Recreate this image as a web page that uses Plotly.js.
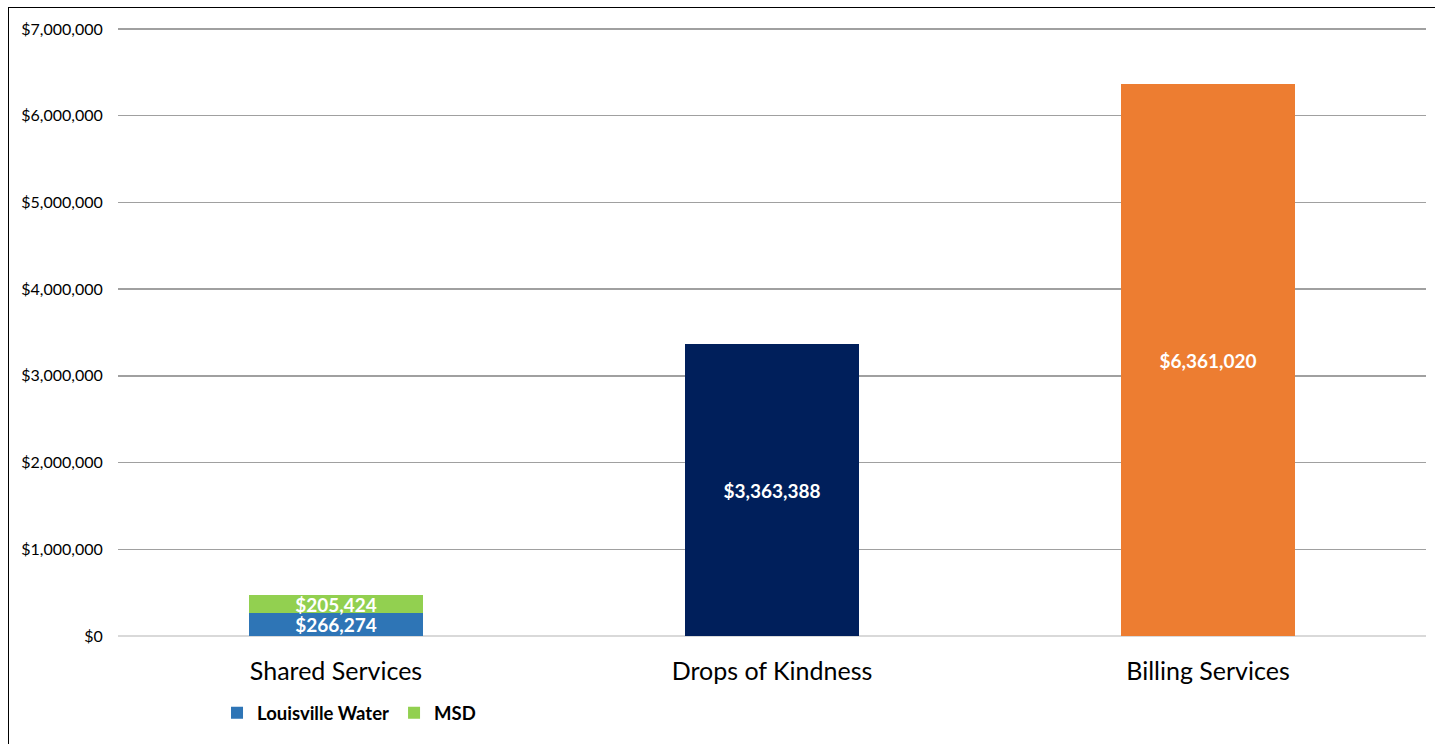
<!DOCTYPE html>
<html>
<head>
<meta charset="utf-8">
<script src="https://cdn.plot.ly/plotly-3.0.1.min.js"></script>
<style>
html,body{margin:0;padding:0;background:#fff;overflow:hidden;}
#chart{width:1435px;height:744px;position:absolute;left:0;top:0;}
#frame{position:absolute;left:8px;top:7px;width:1500px;height:800px;border:1.5px solid #000;pointer-events:none;}
</style>
</head>
<body>
<div id="chart"></div>
<div id="frame"></div>
<script>
const categories = ["Shared Services", "Drops of Kindness", "Billing Services"];
const louisvilleWater = [266274];
const msd = [205424];
const dropsOfKindness = [3363388];
const billingServices = [6361020];
const yTickVals = [0, 1000000, 2000000, 3000000, 4000000, 5000000, 6000000, 7000000];
const yTickText = ["$0", "$1,000,000", "$2,000,000", "$3,000,000", "$4,000,000", "$5,000,000", "$6,000,000", "$7,000,000"];

const fmt = v => "$" + v.toLocaleString("en-US");
const labelFont = {family: "Lato, 'Open Sans', sans-serif", size: 19, color: "#ffffff", weight: "bold"};

function barTrace(name, xs, ys, color, showLegend) {
  return {
    type: "bar", name: name, x: xs, y: ys,
    marker: {color: color},
    text: ys.map(fmt), textposition: "inside", insidetextanchor: "middle",
    textfont: labelFont, constraintext: "none",
    showlegend: showLegend, width: 0.4, hoverinfo: "x+y"
  };
}

const data = [
  barTrace("Louisville Water", [categories[0]], louisvilleWater, "#2E75B6", true),
  barTrace("MSD", [categories[0]], msd, "#92D050", true),
  barTrace("Drops of Kindness", [categories[1]], dropsOfKindness, "#001F5B", false),
  barTrace("Billing Services", [categories[2]], billingServices, "#ED7D31", false)
];

const layout = {
  width: 1435, height: 744,
  margin: {l: 118, r: 9, t: 27, b: 108},
  paper_bgcolor: "rgba(0,0,0,0)", plot_bgcolor: "#fff",
  barmode: "stack",
  font: {family: "Lato, 'Open Sans', sans-serif", color: "#000"},
  xaxis: {
    type: "category", categoryorder: "array", categoryarray: categories,
    tickfont: {size: 25, color: "#000"},
    ticks: "outside", ticklen: 13, tickcolor: "rgba(0,0,0,0)",
    showgrid: false, showline: false,
    zeroline: false
  },
  yaxis: {
    range: [0, 7023000],
    tickvals: yTickVals, ticktext: yTickText,
    tickfont: {size: 16, color: "#000"},
    ticks: "outside", ticklen: 11, tickcolor: "rgba(0,0,0,0)",
    showgrid: true, gridcolor: "#a0a0a0", gridwidth: 1.5,
    zeroline: true, zerolinecolor: "#d9d9d9", zerolinewidth: 1.5,
    showline: false
  },
  legend: {
    orientation: "h", traceorder: "normal",
    x: 0.0757, xanchor: "left", y: -0.127, yanchor: "middle",
    font: {size: 18.5, color: "#000", weight: "bold"},
    itemwidth: 30, tracegroupgap: 0, bgcolor: "rgba(0,0,0,0)"
  },
  showlegend: true
};

Plotly.newPlot("chart", data, layout, {displayModeBar: false, staticPlot: true});
</script>
</body>
</html>
